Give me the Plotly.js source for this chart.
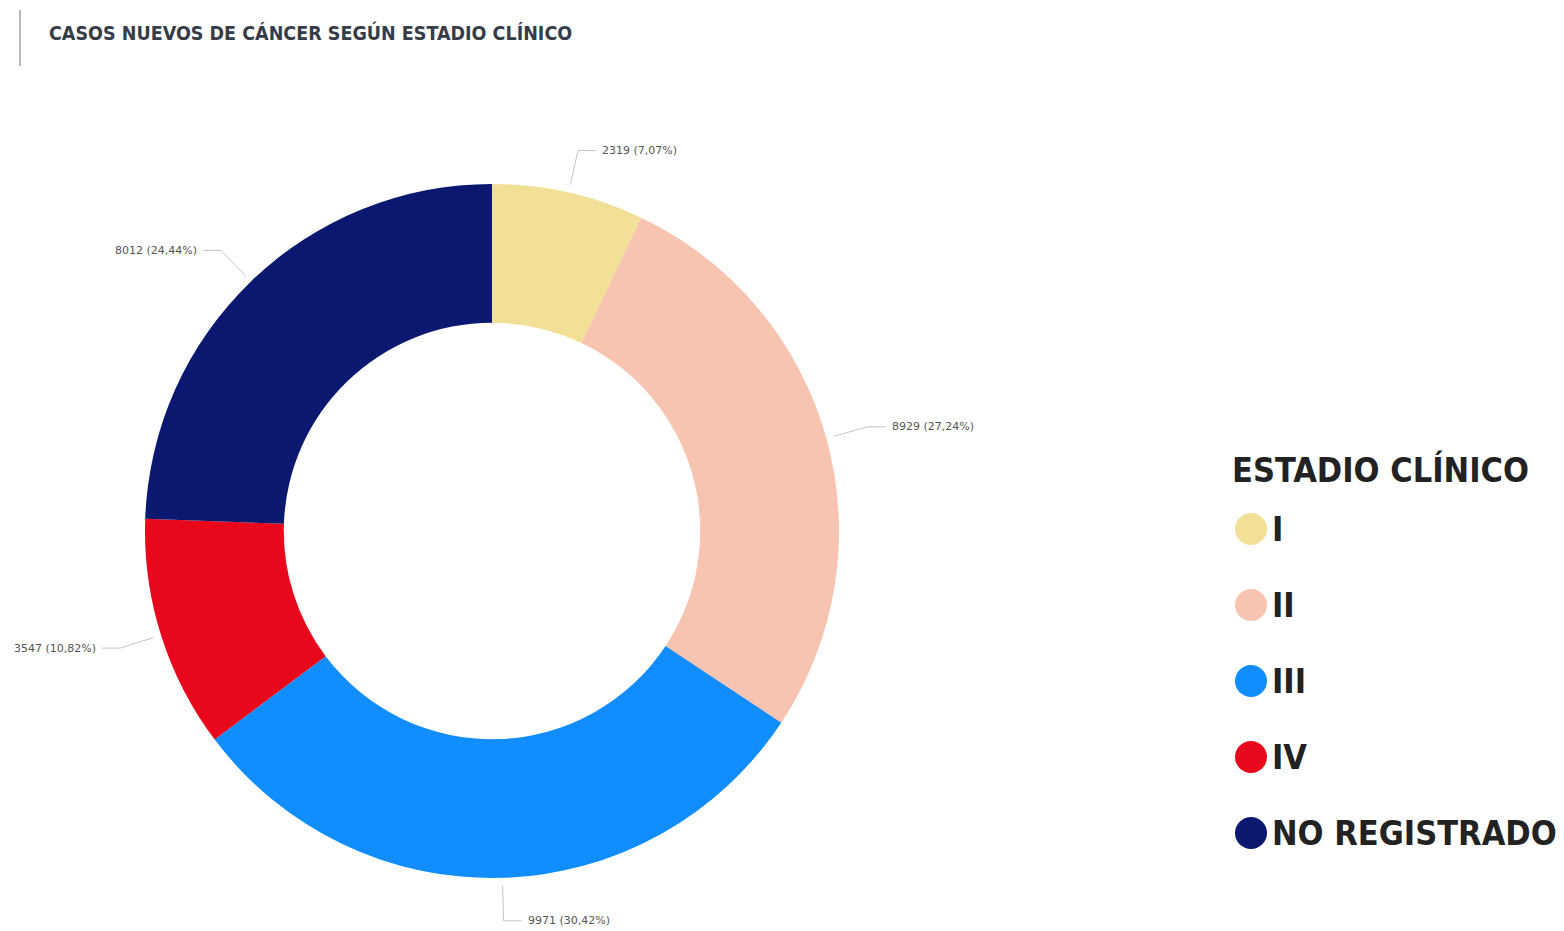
<!DOCTYPE html>
<html>
<head>
<meta charset="utf-8">
<script src="https://cdn.plot.ly/plotly-3.0.1.min.js"></script>
<style>html,body{margin:0;padding:0;background:#fff;}#chart{width:1564px;height:931px;}</style>
</head>
<body>
<div id="chart"></div>
<script>
// ---- data ----
const categories = ["I", "II", "III", "IV", "NO REGISTRADO"];
const values = [2319, 8929, 9971, 3547, 8012];
const percentLabels = ["7,07%", "27,24%", "30,42%", "10,82%", "24,44%"];
const colors = ["#F1E096", "#F6C4B1", "#118DFF", "#E8071B", "#0B1870"];
const chartTitle = "CASOS NUEVOS DE CÁNCER SEGÚN ESTADIO CLÍNICO";
const legendTitle = "ESTADIO CLÍNICO";

// ---- geometry ----
const W = 1564, H = 931;
const cx = 492, cy = 531, R = 347;
const px = x => x / W;
const py = y => 1 - y / H;

const total = values.reduce((a, b) => a + b, 0);
const shapes = [];
const annotations = [];

// title bar
shapes.push({type: 'line', xref: 'paper', yref: 'paper', x0: px(20), x1: px(20), y0: py(10), y1: py(66),
  line: {color: '#A0A0A0', width: 1.5}});
annotations.push({xref: 'paper', yref: 'paper', x: px(47), y: py(33), xanchor: 'left', yanchor: 'middle',
  showarrow: false, text: '<b>' + chartTitle + '</b>',
  font: {family: 'DejaVu Sans Condensed, DejaVu Sans', size: 19.5, color: '#363D47'}});

// data labels with leader lines
let cum = 0;
values.forEach((v, i) => {
  const mid = (cum + v / 2) / total;
  cum += v;
  const th = 2 * Math.PI * mid;
  const s = Math.sin(th), c = Math.cos(th);
  const r1 = R + 8, r2 = R + 43;
  const x1 = cx + r1 * s, y1 = cy - r1 * c;
  const x2 = cx + r2 * s, y2 = cy - r2 * c;
  const dir = s >= 0 ? 1 : -1;
  const x3 = x2 + dir * 18;
  shapes.push({type: 'path', xref: 'paper', yref: 'paper',
    path: `M ${px(x1)} ${py(y1)} L ${px(x2)} ${py(y2)} L ${px(x3)} ${py(y2)}`,
    line: {color: '#C4C4C4', width: 1}});
  annotations.push({xref: 'paper', yref: 'paper', x: px(x3 + dir * 4), y: py(y2),
    xanchor: dir > 0 ? 'left' : 'right', yanchor: 'middle', showarrow: false,
    text: v + ' (' + percentLabels[i] + ')',
    font: {family: 'DejaVu Sans', size: 11, color: '#555555'}});
});

// legend (manual, circle markers)
annotations.push({xref: 'paper', yref: 'paper', x: px(1230), y: py(470), xanchor: 'left', yanchor: 'middle',
  showarrow: false, text: '<b>' + legendTitle + '</b>',
  font: {family: 'DejaVu Sans Condensed, DejaVu Sans', size: 34, color: '#222222'}});
categories.forEach((cat, i) => {
  const yc = 529 + i * 76;
  shapes.push({type: 'circle', xref: 'paper', yref: 'paper',
    x0: px(1251 - 16), x1: px(1251 + 16), y0: py(yc + 16), y1: py(yc - 16),
    fillcolor: colors[i], line: {width: 0}});
  annotations.push({xref: 'paper', yref: 'paper', x: px(1270), y: py(yc), xanchor: 'left', yanchor: 'middle',
    showarrow: false, text: '<b>' + cat + '</b>',
    font: {family: 'DejaVu Sans Condensed, DejaVu Sans', size: 34, color: '#222222'}});
});

const trace = {
  type: 'pie',
  labels: categories,
  values: values,
  hole: 0.6,
  sort: false,
  direction: 'clockwise',
  rotation: 0,
  marker: {colors: colors, line: {width: 0}},
  textinfo: 'none',
  hoverinfo: 'label+value+percent',
  showlegend: false,
  domain: {x: [px(cx - R), px(cx + R)], y: [py(cy + R), py(cy - R)]}
};

const layout = {
  width: W, height: H,
  margin: {l: 0, r: 0, t: 0, b: 0},
  paper_bgcolor: '#ffffff',
  showlegend: false,
  shapes: shapes,
  annotations: annotations
};

Plotly.newPlot('chart', [trace], layout, {displayModeBar: false, staticPlot: true});
</script>
</body>
</html>
